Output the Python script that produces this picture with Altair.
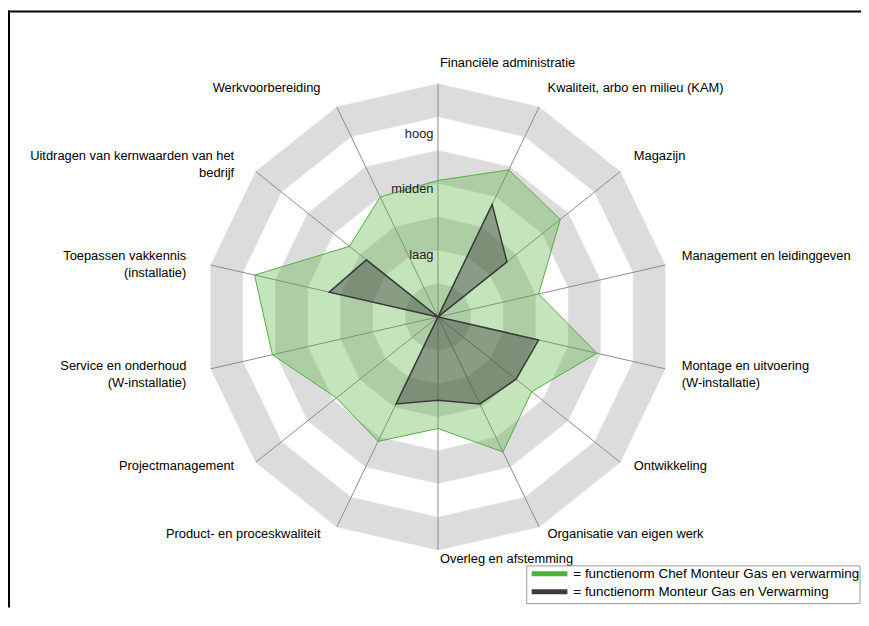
import altair as alt
import pandas as pd

# ---------------- data ----------------
categories = [
    "Financiële administratie",
    "Kwaliteit, arbo en milieu (KAM)",
    "Magazijn",
    "Management en leidinggeven",
    "Montage en uitvoering\n(W-installatie)",
    "Ontwikkeling",
    "Organisatie van eigen werk",
    "Overleg en afstemming",
    "Product- en proceskwaliteit",
    "Projectmanagement",
    "Service en onderhoud\n(W-installatie)",
    "Toepassen vakkennis\n(installatie)",
    "Uitdragen van kernwaarden van het\nbedrijf",
    "Werkvoorbereiding",
]
chef_values = [4.1, 4.9, 4.7, 3.1, 4.9, 3.6, 4.5, 3.35, 4.15, 3.9, 5.1, 5.65, 3.4, 4.0]
monteur_values = [0, 3.75, 2.65, 0, 3.1, 3.0, 2.9, 2.5, 2.9, 0, 0, 3.35, 2.75, 0]
series_names = [
    "functienorm Chef Monteur Gas en verwarming",
    "functienorm Monteur Gas en Verwarming",
]
series_colors = ["#52ad42", "#3a3a3a"]
legend_swatch_colors = ["#4db33d", "#3c3c3c"]
ring_levels = [7, 6, 5, 4, 3, 2, 1]
scale_labels = ["laag", "midden", "hoog"]
scale_label_levels = [1.85, 3.85, 5.5]

# ---------------- layout ----------------
N = len(categories)
MAXV = 7
W, H = 850, 602
K = 235 / MAXV          # px per unit
CX, CY = 433.5, 309.0   # centre inside plot area
FONT = "Liberation Sans"
FS = 13

xdom = [-CX / K, (W - CX) / K]
ydom = [(CY - H) / K, CY / K]


def X(field):
    return alt.X(field, type="quantitative",
                 scale=alt.Scale(domain=xdom, nice=False, zero=False), axis=None)


def Y(field):
    return alt.Y(field, type="quantitative",
                 scale=alt.Scale(domain=ydom, nice=False, zero=False), axis=None)


ANG = f"(datum.i * 2 * PI / {N})"

rings_df = pd.DataFrame([{"level": L, "i": i} for L in ring_levels for i in range(N)])
axes_df = pd.DataFrame({"i": list(range(N)), "label": categories})
poly_df = pd.DataFrame(
    [{"series": series_names[0], "i": i, "value": v} for i, v in enumerate(chef_values)]
    + [{"series": series_names[1], "i": i, "value": v} for i, v in enumerate(monteur_values)]
)
scale_df = pd.DataFrame({"label": scale_labels, "level": scale_label_levels})
legend_df = pd.DataFrame({"series": series_names, "color": legend_swatch_colors})

layers = []

# rings
for L in ring_levels:
    col = "#dcdcdc" if L % 2 == 1 else "#ffffff"
    layers.append(
        alt.Chart(rings_df)
        .transform_filter(alt.datum.level == L)
        .transform_calculate(x=f"datum.level * sin({ANG})", y=f"datum.level * cos({ANG})")
        .mark_line(interpolate="linear-closed", fill=col, stroke=col, strokeWidth=0.5)
        .encode(x=X("x"), y=Y("y"), order=alt.Order("i:Q"))
    )

# spokes
layers.append(
    alt.Chart(axes_df)
    .transform_calculate(x0="0", y0="0",
                         x=f"{MAXV} * sin({ANG})", y=f"{MAXV} * cos({ANG})")
    .mark_rule(color="#8c8c8c", strokeWidth=1)
    .encode(x=X("x0"), y=Y("y0"), x2="x:Q", y2="y:Q")
)

stroke_enc = alt.Stroke(
    "series:N",
    scale=alt.Scale(domain=series_names, range=series_colors),
    legend=None,
)

fills = [("#56b240", 0.35, 1), ("#333333", 0.4, 1.5)]
for s, (fc, fo, sw) in zip(series_names, fills):
    layers.append(
        alt.Chart(poly_df)
        .transform_filter(alt.datum.series == s)
        .transform_calculate(x=f"datum.value * sin({ANG})", y=f"datum.value * cos({ANG})")
        .mark_line(interpolate="linear-closed", fill=fc, fillOpacity=fo, strokeWidth=sw)
        .encode(x=X("x"), y=Y("y"), order=alt.Order("i:Q"), stroke=stroke_enc)
    )

# category labels
R_LAB = MAXV + 15 / K
lab_base = alt.Chart(axes_df).transform_calculate(
    x=f"{R_LAB} * sin({ANG}) + (datum.i > {N // 2} ? {-10 / K} : {2 / K})",
    y=f"{R_LAB} * cos({ANG}) + {5 / K}",
)
for cond, al in [(f"datum.i <= {N // 2}", "left"), (f"datum.i > {N // 2}", "right")]:
    layers.append(
        lab_base.transform_filter(cond)
        .mark_text(align=al, baseline="top", dy=-7, lineBreak="\n", lineHeight=17,
                   font=FONT, fontSize=FS, color="#000")
        .encode(x=X("x"), y=Y("y"), text="label:N")
    )

# scale labels
layers.append(
    alt.Chart(scale_df)
    .transform_calculate(x=f"{-4.5 / K}", y="datum.level")
    .mark_text(align="right", baseline="middle", font=FONT, fontSize=FS, color="#222")
    .encode(x=X("x"), y=Y("y"), text="label:N")
)

# legend box (drawn manually, bottom right)
LX0, LX1, LY0, LY1 = 523, 859, 560, 598
layers.append(
    alt.Chart(legend_df.head(1))
    .mark_rect(fill="#ffffff", stroke="#999999", strokeWidth=1)
    .encode(x=alt.value(LX0), x2=alt.value(LX1), y=alt.value(LY0), y2=alt.value(LY1))
)
for k, (s, c) in enumerate(zip(series_names, legend_swatch_colors)):
    ry = LY0 + 8 + 18 * k
    one = alt.Chart(legend_df).transform_filter(alt.datum.series == s)
    layers.append(
        one.mark_rule(color=c, strokeWidth=5)
        .encode(x=alt.value(LX0 + 5), x2=alt.value(LX0 + 41), y=alt.value(ry))
    )
    layers.append(
        one.transform_calculate(t="'= ' + datum.series")
        .mark_text(align="left", baseline="middle", font=FONT, fontSize=13.5, color="#000")
        .encode(x=alt.value(LX0 + 47), y=alt.value(ry), text="t:N")
    )

# frame (top and left)
layers.append(
    alt.Chart(scale_df.head(1)).mark_rule(color="#000", strokeWidth=2)
    .encode(x=alt.value(1), y=alt.value(0), y2=alt.value(H))
)
layers.append(
    alt.Chart(scale_df.head(1)).mark_rule(color="#000", strokeWidth=2)
    .encode(y=alt.value(1), x=alt.value(0), x2=alt.value(W + 10))
)

chart = (
    alt.layer(*layers)
    .properties(width=W, height=H,
                padding={"left": 0, "top": 0, "right": 10, "bottom": 0},
                autosize=alt.AutoSizeParams(type="none"))
    .configure_view(stroke=None)
)

chart.save("out.html", embed_options={"renderer": "svg", "actions": False})
